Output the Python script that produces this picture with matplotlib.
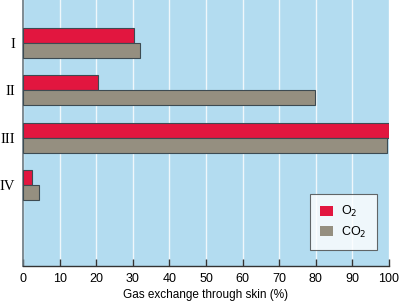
import numpy as np
import matplotlib
matplotlib.use('Agg')
import matplotlib.pyplot as plt

groups = ['I', 'II', 'III', 'IV']
o2 = [30.3, 20.5, 100, 2.5]
co2 = [32, 79.7, 99.5, 4.3]
xticks = [0, 10, 20, 30, 40, 50, 60, 70, 80, 90, 100]

plt.rcParams['font.family'] = 'sans-serif'
plt.rcParams['font.sans-serif'] = ['Liberation Sans', 'DejaVu Sans']

RED = '#e2163f'
GREY = '#958f80'
EDGE = '#3d4b52'
BG = '#b3dcf0'

fig = plt.figure(figsize=(4.0, 3.04), dpi=100)
ax = fig.add_axes([0.0575, 0.125, 0.915, 0.875])
ax.set_facecolor(BG)

y = np.arange(len(groups))
h = 0.317
ax.barh(y - h / 2, o2, height=h, color=RED, edgecolor=EDGE, linewidth=0.8,
        label='O$_2$', zorder=3)
ax.barh(y + h / 2, co2, height=h, color=GREY, edgecolor=EDGE, linewidth=0.8,
        label='CO$_2$', zorder=3)

ax.set_xlim(0, 100)
ax.set_ylim(4.71, -0.909)
ax.set_xticks(xticks)
ax.set_yticks(y)
ax.set_yticklabels(groups, family='Liberation Serif', fontsize=10.5)
ax.tick_params(axis='y', length=0, pad=5.5)
ax.tick_params(axis='x', direction='in', length=5, width=1, color='#333333',
               labelsize=9, pad=5)
ax.xaxis.grid(True, color='white', linewidth=1, alpha=0.8, zorder=1)
ax.set_axisbelow(True)

for s in ['top', 'right']:
    ax.spines[s].set_visible(False)
ax.spines['left'].set_color('#6a7880')
ax.spines['left'].set_linewidth(1.2)
ax.spines['bottom'].set_color('#333333')
ax.spines['bottom'].set_linewidth(1)

ax.set_xlabel('Gas exchange through skin (%)', fontsize=8.5, labelpad=3)

leg = ax.legend(loc='upper right', bbox_to_anchor=(0.967, 0.271),
                borderaxespad=0, fontsize=9, frameon=True, fancybox=False,
                handlelength=1.0, handleheight=0.85, handletextpad=0.7,
                borderpad=0.8, labelspacing=0.45)
leg.get_frame().set_edgecolor('#444444')
leg.get_frame().set_linewidth(0.8)
for p in leg.get_patches():
    p.set_edgecolor('none')

fig.savefig('out.png', dpi=100)
